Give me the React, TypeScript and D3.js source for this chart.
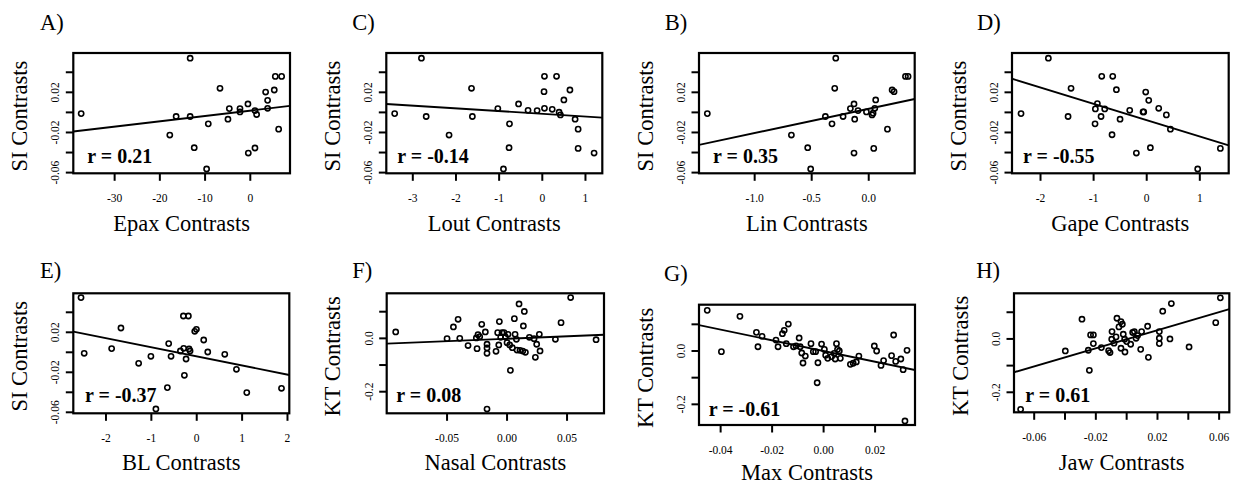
import React from 'react';
import * as d3 from 'd3';

// ---------- Panel A: Epax vs SI ----------
const epaxX = [-37.4, -13.3, -16.4, -13.3, -17.8, -12.4, -9.66, -9.29, -6.7, -4.64, -4.94, -2.28, -2.28, -0.52, -0.44, 1.03, 1.03, 1.4, 3.39, 3.83, 3.83, 5.3, 5.53, 6.93, 6.27];
const epaxSI = [-0.0012, 0.054, -0.0041, -0.0041, -0.0226, -0.0352, -0.0564, -0.0114, 0.024, 0.0038, -0.0068, 0.0038, 0.0005, 0.0084, -0.0405, -0.0355, 0.0018, -0.0021, 0.0203, 0.012, 0.0041, 0.0223, 0.0359, 0.0359, -0.0167];

// ---------- Panel C: Lout vs SI ----------
const loutX = [-3.42, -2.8, -2.69, -2.16, -1.64, -1.62, -1.03, -0.9, -0.77, -0.76, -0.55, -0.33, -0.12, 0.05, 0.04, 0.05, 0.23, 0.33, 0.39, 0.42, 0.5, 0.64, 0.76, 0.83, 0.83, 1.2];
const loutSI = [-0.0012, 0.054, -0.0041, -0.0226, 0.024, -0.0041, 0.0038, -0.0564, -0.0352, -0.0114, 0.0084, 0.0021, 0.0018, 0.036, 0.0207, 0.0041, 0.0031, 0.036, 0.0002, -0.0025, 0.0124, 0.0223, -0.0068, -0.0167, -0.0359, -0.0405];

// ---------- Panel B: Lin vs SI ----------
const linX = [-1.415, -0.289, -0.298, -0.678, -0.535, -0.509, -0.38, -0.322, -0.225, -0.161, -0.129, -0.123, -0.129, -0.094, -0.02, 0.029, 0.038, 0.053, 0.061, 0.044, 0.164, 0.205, 0.222, 0.322, 0.345];
const linSI = [-0.0012, 0.054, 0.024, -0.0226, -0.0352, -0.0564, -0.0041, -0.0114, -0.0041, 0.0038, 0.0084, -0.0068, -0.0405, 0.0018, 0.0005, -0.0025, -0.0008, 0.0041, 0.0124, -0.0359, -0.0167, 0.0223, 0.0207, 0.0359, 0.0359];

// ---------- Panel D: Gape vs SI ----------
const gapeX = [-2.367, -1.852, -1.425, -1.481, -0.929, -0.967, -0.86, -0.791, -0.973, -0.847, -0.64, -0.571, -0.653, -0.502, -0.32, -0.195, -0.069, -0.056, -0.019, 0.038, 0.069, 0.226, 0.37, 0.446, 0.96, 1.387];
const gapeSI = [-0.0012, 0.054, 0.024, -0.0041, 0.0088, 0.0035, -0.0041, 0.0035, -0.0114, 0.036, 0.036, 0.0226, -0.0223, -0.0068, 0.0021, -0.0405, 0.0005, 0.0005, 0.0203, 0.012, -0.0352, 0.0041, -0.0025, -0.0167, -0.0564, -0.0359];

// ---------- Panel E: BL vs SI ----------
const blX = [-2.55, -2.48, -1.875, -1.67, -1.28, -1.01, -0.9, -0.647, -0.618, -0.566, -0.36, -0.287, -0.294, -0.184, -0.272, -0.235, -0.169, -0.147, -0.044, -0.007, 0.154, 0.243, 0.618, 0.875, 1.103, 1.868];
const blSI = [0.0547, -0.001, 0.0037, 0.0243, -0.011, -0.004, -0.0567, -0.0353, 0.0087, -0.004, 0.0013, 0.004, 0.0363, 0.0363, -0.023, -0.0067, 0.0033, 0.0013, 0.021, 0.023, 0.0123, 0.0003, -0.002, -0.017, -0.0403, -0.036];

// ---------- Panel F: Nasal vs KT ----------
const nasalX = [-0.0928, -0.05, -0.0447, -0.0408, -0.0394, -0.0325, -0.025, -0.0256, -0.0242, -0.0211, -0.0181, -0.0228, -0.0167, -0.0167, -0.0167, -0.0092, -0.0078, -0.0064, -0.0069, -0.0053, -0.0042, -0.0025, -0.0014, 0.0, 0.0008, 0.0022, 0.0028, 0.0044, 0.0061, 0.0067, 0.0078, 0.0083, 0.01, 0.0108, 0.0131, 0.0144, 0.0136, 0.0153, 0.0186, 0.0225, 0.0236, 0.0247, 0.0269, 0.0275, 0.0403, 0.045, 0.053, 0.0742, -0.0167];
const nasalKT = [0.024, -0.001, 0.0428, 0.0715, 0.0, -0.027, -0.0385, 0.0015, 0.014, 0.0528, 0.024, 0.0065, -0.022, -0.036, -0.056, -0.0485, 0.0215, 0.0628, -0.0247, 0.004, 0.0215, 0.0215, 0.0053, -0.016, 0.0153, -0.0247, -0.12, -0.035, 0.074, 0.0153, -0.0035, -0.044, 0.129, -0.045, -0.0478, 0.101, 0.0465, -0.0522, 0.004, -0.001, -0.071, -0.022, 0.0153, -0.0472, -0.0035, 0.059, 0.153, -0.005, -0.265];

// ---------- Panel G: Max vs KT ----------
const maxX = [-0.0452, -0.0397, -0.0325, -0.0261, -0.0255, -0.0239, -0.0185, -0.0177, -0.016, -0.0153, -0.0137, -0.0145, -0.0117, -0.0107, -0.0095, -0.0091, -0.0085, -0.008, -0.0071, -0.0049, -0.004, -0.0031, -0.0022, -0.0025, -0.0008, 0.0003, 0.0008, 0.0016, 0.0031, 0.0041, 0.005, 0.0054, 0.0061, 0.0065, 0.0045, 0.0104, 0.0115, 0.0127, 0.0137, 0.0197, 0.0206, 0.0223, 0.0233, 0.0264, 0.0272, 0.028, 0.03, 0.0309, 0.0324, 0.0316];
const maxKT = [0.1525, -0.0025, 0.13, 0.07, 0.016, 0.055, 0.041, 0.016, 0.065, 0.0775, 0.101, 0.0275, 0.016, 0.019, 0.049, 0.016, -0.0075, -0.045, -0.019, 0.0275, -0.0025, -0.0025, -0.044, -0.119, 0.026, 0.006, -0.016, -0.0275, -0.021, -0.009, 0.0275, 0.006, 0.0, -0.0275, -0.03, -0.05, -0.046, -0.041, -0.019, 0.019, 0.0, -0.054, -0.036, -0.0175, 0.06, -0.039, -0.03, -0.07, 0.0025, -0.2625];

// ---------- Panel H: Jaw vs KT ----------
const jawX = [-0.0688, -0.0398, -0.029, -0.0249, -0.0242, -0.0234, -0.0216, -0.0216, -0.0164, -0.0117, -0.0108, -0.0095, -0.0097, -0.0082, -0.0069, -0.0063, -0.005, -0.0037, -0.0028, -0.0037, -0.0022, -0.0011, -0.0013, 0.0, 0.0026, 0.0039, 0.005, 0.0061, 0.0071, 0.0091, 0.0097, 0.0136, 0.0141, 0.0212, 0.0212, 0.0212, 0.0234, 0.0281, 0.029, 0.0405, 0.0578, 0.0608];
const jawKT = [-0.264, -0.045, 0.074, -0.0425, -0.1175, 0.015, 0.015, -0.0175, -0.0325, -0.044, -0.051, 0.0275, -0.001, -0.016, 0.0075, 0.0775, 0.045, 0.065, 0.055, -0.035, 0.0175, -0.049, -0.001, -0.01, -0.02, 0.024, 0.0275, 0.0025, 0.0125, -0.039, 0.0275, 0.0475, -0.069, 0.0275, 0.0025, -0.0175, 0.104, 0.0, 0.1325, -0.03, 0.061, 0.154];

// ---------- Regression lines (intercept, slope) and r ----------
const fitIntercepts = [0.0018, -0.0014, 0.0036, -0.0078, -0.0041, -0.0013, 0.0, -0.0012];
const fitSlopes = [0.000531, -0.00271, 0.02419, -0.01628, -0.009094, 0.184, -2.005, 1.694];
const rValues = ['0.21', '-0.14', '0.35', '-0.55', '-0.37', '0.08', '-0.61', '0.61'];

// ---------- Axis domains ----------
const xDomains = [[-39.14, 8.78], [-3.614, 1.39], [-1.488, 0.403], [-2.537, 1.544], [-2.72, 2.04], [-0.1003, 0.0808], [-0.0484, 0.0355], [-0.0731, 0.0666]];
const siDomain = [-0.0607, 0.0592];
const ktDomains = [[-0.281, 0.169], [-0.2775, 0.1736], [-0.275, 0.171]];

// ---------- Ticks ----------
const epaxTicks = [-30, -20, -10, 0];
const epaxTickLabels = ['-30', '-20', '-10', '0'];
const loutTicks = [-3, -2, -1, 0, 1];
const loutTickLabels = ['-3', '-2', '-1', '0', '1'];
const linTicks = [-1.0, -0.5, 0.0];
const linTickLabels = ['-1.0', '-0.5', '0.0'];
const gapeTicks = [-2, -1, 0, 1];
const gapeTickLabels = ['-2', '-1', '0', '1'];
const blTicks = [-2, -1, 0, 1, 2];
const blTickLabels = ['-2', '-1', '0', '1', '2'];
const nasalTicks = [-0.05, 0.0, 0.05];
const nasalTickLabels = ['-0.05', '0.00', '0.05'];
const maxTicks = [-0.04, -0.02, 0.0, 0.02];
const maxTickLabels = ['-0.04', '-0.02', '0.00', '0.02'];
const jawTicks = [-0.06, -0.04, -0.02, 0.0, 0.02, 0.04, 0.06];
const jawTickLabels = ['-0.06', '', '-0.02', '', '0.02', '', '0.06'];
const siTicks = [0.04, 0.02, 0.0, -0.02, -0.04, -0.06];
const siTickLabels = ['', '0.02', '', '-0.02', '', '-0.06'];
const ktTicks = [0.1, 0.0, -0.1, -0.2];
const ktTickLabels = ['', '0.0', '', '-0.2'];

const titles = ['A)', 'C)', 'B)', 'D)', 'E)', 'F)', 'G)', 'H)'];
const xLabels = ['Epax Contrasts', 'Lout Contrasts', 'Lin Contrasts', 'Gape Contrasts', 'BL Contrasts', 'Nasal Contrasts', 'Max Contrasts', 'Jaw Contrasts'];
const yLabels = ['SI Contrasts', 'SI Contrasts', 'SI Contrasts', 'SI Contrasts', 'SI Contrasts', 'KT Contrasts', 'KT Contrasts', 'KT Contrasts'];

const panelData = [
  { xs: epaxX, ys: epaxSI, xt: epaxTicks, xtl: epaxTickLabels, yd: siDomain, yt: siTicks, ytl: siTickLabels },
  { xs: loutX, ys: loutSI, xt: loutTicks, xtl: loutTickLabels, yd: siDomain, yt: siTicks, ytl: siTickLabels },
  { xs: linX, ys: linSI, xt: linTicks, xtl: linTickLabels, yd: siDomain, yt: siTicks, ytl: siTickLabels },
  { xs: gapeX, ys: gapeSI, xt: gapeTicks, xtl: gapeTickLabels, yd: siDomain, yt: siTicks, ytl: siTickLabels },
  { xs: blX, ys: blSI, xt: blTicks, xtl: blTickLabels, yd: [-0.061, 0.059], yt: siTicks, ytl: siTickLabels },
  { xs: nasalX, ys: nasalKT, xt: nasalTicks, xtl: nasalTickLabels, yd: ktDomains[0], yt: ktTicks, ytl: ktTickLabels },
  { xs: maxX, ys: maxKT, xt: maxTicks, xtl: maxTickLabels, yd: ktDomains[1], yt: ktTicks, ytl: ktTickLabels },
  { xs: jawX, ys: jawKT, xt: jawTicks, xtl: jawTickLabels, yd: ktDomains[2], yt: ktTicks, ytl: ktTickLabels },
];

// ---------- Layout (pixel positions of each plot box) ----------
const layout = [
  { left: 73.3, top: 53, w: 216.7, h: 120.3, tx: 40, ty: 29.5, xly: 231, rdx: 14, rdy: -10 },
  { left: 386.3, top: 53, w: 216, h: 120.3, tx: 352.3, ty: 29.5, xly: 231, rdx: 11, rdy: -10 },
  { left: 699, top: 53, w: 215.7, h: 120.3, tx: 664.7, ty: 29.5, xly: 231, rdx: 14, rdy: -10 },
  { left: 1012, top: 53, w: 216.7, h: 120.3, tx: 977, ty: 29.5, xly: 231, rdx: 11, rdy: -10 },
  { left: 73.3, top: 293.3, w: 216, h: 120, tx: 40, ty: 278.3, xly: 469.5, rdx: 11.7, rdy: -11.6 },
  { left: 386.7, top: 293.3, w: 217.3, h: 120, tx: 352.3, ty: 278.3, xly: 469.5, rdx: 9.6, rdy: -11.6 },
  { left: 699, top: 304.7, w: 216, h: 120.3, tx: 664, ty: 281, xly: 480, rdx: 9.7, rdy: -9.3 },
  { left: 1014, top: 293.3, w: 215.3, h: 119, tx: 976.3, ty: 277.7, xly: 469.5, rdx: 11.3, rdy: -10.6 },
];

const FONT = 'Liberation Serif, Times New Roman, Times, serif';
const TICK = 7.5;

function Panel({ i }: { i: number }) {
  const L = layout[i];
  const D = panelData[i];
  const xd = xDomains[i];
  const x = d3.scaleLinear().domain(xd).range([L.left, L.left + L.w]);
  const y = d3.scaleLinear().domain(D.yd).range([L.top + L.h, L.top]);
  const bottom = L.top + L.h;
  const clipId = `clip-${i}`;
  const fitY = (v: number) => fitIntercepts[i] + fitSlopes[i] * v;
  const lineGen = d3.line<number>().x((v) => x(v)).y((v) => y(fitY(v)));
  const cy = L.top + L.h / 2 + 3;
  return (
    <g>
      <defs>
        <clipPath id={clipId}>
          <rect x={L.left} y={L.top} width={L.w} height={L.h} />
        </clipPath>
      </defs>
      <text x={L.tx} y={L.ty} fontSize={22.5} fontFamily={FONT}>{titles[i]}</text>
      <path d={lineGen(xd) || ''} stroke="#000" strokeWidth={1.9} fill="none" clipPath={`url(#${clipId})`} />
      {D.xs.map((v, k) => (
        <circle key={k} cx={x(v)} cy={y(D.ys[k])} r={2.6} fill="none" stroke="#000" strokeWidth={1.6} />
      ))}
      <rect x={L.left} y={L.top} width={L.w} height={L.h} fill="none" stroke="#000" strokeWidth={2.2} />
      {/* x axis */}
      {D.xt.map((t, k) => (
        <g key={`xt${k}`}>
          <line x1={x(t)} x2={x(t)} y1={bottom} y2={bottom + TICK} stroke="#000" strokeWidth={2} />
          {D.xtl[k] && (
            <text x={x(t)} y={bottom + 29} fontSize={11.5} textAnchor="middle" fontFamily={FONT}>{D.xtl[k]}</text>
          )}
        </g>
      ))}
      {/* y axis */}
      {D.yt.map((t, k) => (
        <g key={`yt${k}`}>
          <line x1={L.left - TICK} x2={L.left} y1={y(t)} y2={y(t)} stroke="#000" strokeWidth={2} />
          {D.ytl[k] && (
            <text transform={`translate(${L.left - 14},${y(t)}) rotate(-90)`} fontSize={11.5} textAnchor="middle" fontFamily={FONT}>{D.ytl[k]}</text>
          )}
        </g>
      ))}
      <text x={L.left + L.w / 2} y={L.xly} fontSize={22.5} textAnchor="middle" fontFamily={FONT}>{xLabels[i]}</text>
      <text transform={`translate(${L.left - 46.5},${cy}) rotate(-90)`} fontSize={22.5} textAnchor="middle" fontFamily={FONT}>{yLabels[i]}</text>
      <text x={L.left + L.rdx} y={bottom + L.rdy} fontSize={20} fontWeight="bold" fontFamily={FONT}>{`r = ${rValues[i]}`}</text>
    </g>
  );
}

export default function App() {
  return (
    <svg width={1236} height={491} style={{ position: 'absolute', left: 0, top: 0, background: '#fff' }}>
      <rect x={0} y={0} width={1236} height={491} fill="#fff" />
      {layout.map((_, i) => (
        <Panel key={i} i={i} />
      ))}
    </svg>
  );
}
